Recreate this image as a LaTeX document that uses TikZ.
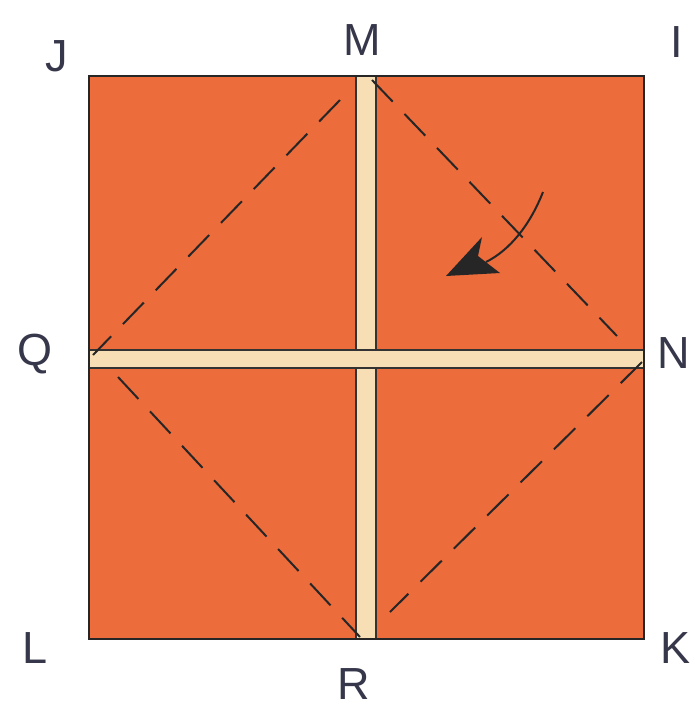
\documentclass[tikz,border=0pt]{standalone}
\usepackage{fontspec}
\setmainfont{Liberation Sans}
\begin{document}
\begin{tikzpicture}[x=1pt,y=-1pt,
  lbl/.style={font=\fontsize{45}{50}\selectfont, text=labelc},
  fold/.style={draw=black!85, line width=2pt, dash pattern=on 30pt off 17pt},
  strip/.style={fill=cream, draw=black!80, line width=1.5pt}]
\definecolor{paper}{RGB}{236,108,60}
\definecolor{cream}{RGB}{247,222,180}
\definecolor{labelc}{RGB}{55,55,75}
\useasboundingbox (0,0) rectangle (695,716);
% square
\coordinate (sqJ) at (89,76);
\coordinate (sqK) at (644,639);
\fill[paper] (sqJ) rectangle (sqK);
% strips
\draw[strip] (356,76) rectangle (376,639);
\draw[strip] (89,350) rectangle (644,368);
\fill[cream] (357.5,351) rectangle (374.5,367);
\draw[black!85, line width=1.8pt] (sqJ) rectangle (sqK);
% fold lines
\coordinate (d1a) at (93,355); \coordinate (d1b) at (340,100);
\coordinate (d2a) at (372,80); \coordinate (d2b) at (617,336);
\coordinate (d3a) at (642,362); \coordinate (d3b) at (390,612);
\coordinate (d4a) at (118,377); \coordinate (d4b) at (360,637);
\draw[fold] (d1b) -- (d1a);
\draw[fold] (d2a) -- (d2b);
\draw[fold] (d3a) -- (d3b);
\draw[fold] (d4a) -- (d4b);
% arrow
\coordinate (as) at (543,192);
\coordinate (ae) at (486,262);
\draw[black!85, line width=2pt] (as) .. controls (530,225) and (510,250) .. (ae);
\fill[black!85] (446,276) -- (482,237) -- (478,256) -- (500,273) -- cycle;
% labels
\node[lbl] (J) at (57,56) {J};
\node[lbl] (M) at (362,40) {M};
\node[lbl] (I) at (677,42) {I};
\node[lbl] (Q) at (35,354) {Q};
\node[lbl] (N) at (674,353) {N};
\node[lbl] (L) at (35,648) {L};
\node[lbl] (K) at (676,648) {K};
\node[lbl] (R) at (354,684) {R};
\end{tikzpicture}
\end{document}
